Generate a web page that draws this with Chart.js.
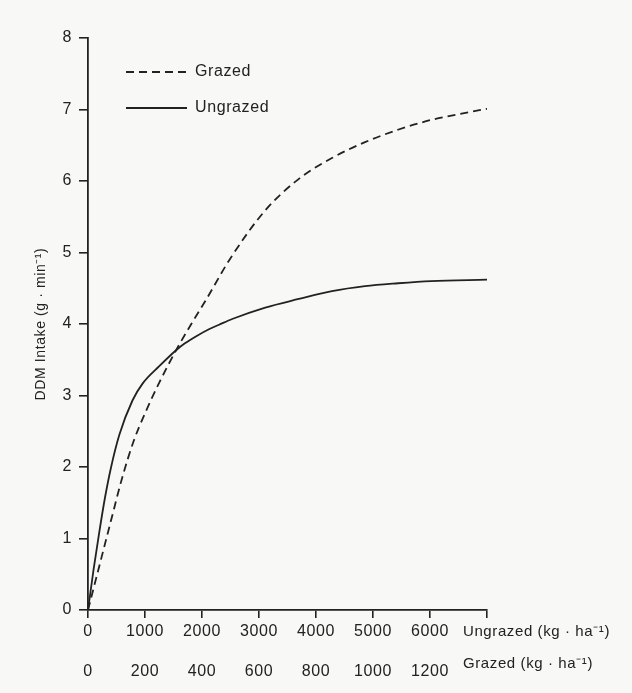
<!DOCTYPE html>
<html>
<head>
<meta charset="utf-8">
<script src="https://cdn.jsdelivr.net/npm/chart.js@4.4.1/dist/chart.umd.min.js"></script>
<style>
  body { margin: 0; background: #f8f8f6; }
  canvas { display: block; }
</style>
</head>
<body>
<canvas id="myChart" width="632" height="693"></canvas>
<script>
// ungrazed sward, kg/ha on the upper x scale
const ungrazedX = [0, 100, 200, 300, 400, 550, 780, 960, 1250, 1540, 1700, 1900, 2130, 2300, 2530, 3110, 3700, 4280, 4860, 5440, 6020, 7000];
const ungrazedY = [0, 0.58, 1.1, 1.58, 1.98, 2.45, 2.93, 3.17, 3.41, 3.63, 3.73, 3.83, 3.93, 3.99, 4.07, 4.23, 4.35, 4.46, 4.53, 4.57, 4.6, 4.62];

// grazed sward, kg/ha on the lower x scale
const grazedX = [0, 40, 80, 120, 160, 200, 250, 310, 370, 410, 500, 620, 740, 860, 970, 1090, 1200, 1320, 1400];
const grazedY = [0, 0.62, 1.24, 1.85, 2.36, 2.75, 3.18, 3.64, 4.05, 4.31, 4.92, 5.58, 6.03, 6.33, 6.54, 6.72, 6.85, 6.95, 7.01];

const ungrazedTicks = [0, 7000, 1000];
const grazedTicks = [0, 1400, 200];
const intakeTicks = [0, 8, 1];

const ungrazedUnit = 'Ungrazed (kg \u00b7 ha\u207b\u00b9)';
const grazedUnit = 'Grazed (kg \u00b7 ha\u207b\u00b9)';
const yTitle = 'DDM Intake (g \u00b7 min\u207b\u00b9)';

const ink = '#222222';
Chart.defaults.font.family = "'Liberation Sans', Arial, sans-serif";
Chart.defaults.color = ink;

const toPoints = (xs, ys) => xs.map((x, i) => ({x: x, y: ys[i]}));

// canvas letter spacing, the scan type is set loose
const spacing = {
  id: 'spacing',
  beforeUpdate(chart) { chart.ctx.letterSpacing = '0.6px'; },
  beforeDraw(chart) { chart.ctx.letterSpacing = '0.6px'; }
};

// legend sits inside the plot, nudged off the y axis
const legendNudge = {
  id: 'legendNudge',
  afterLayout(chart) {
    const lg = chart.legend, ca = chart.chartArea;
    lg.left = ca.left + 18;
    lg.top = ca.top + 6;
    lg.right = ca.right;
    lg.bottom = ca.bottom;
  }
};

// unit names written on the tick rows, right of the last label
const units = {
  id: 'units',
  afterDraw(chart) {
    const {ctx, scales} = chart;
    const x = scales.x.getPixelForValue(ungrazedTicks[1]) - 24;
    ctx.save();
    ctx.font = "15px 'Liberation Sans', Arial, sans-serif";
    ctx.fillStyle = ink;
    ctx.textAlign = 'left';
    ctx.textBaseline = 'middle';
    ctx.fillText(ungrazedUnit, x, scales.x.top + 8 + 4 + 9.6);
    ctx.fillText(grazedUnit, x, scales.x2.top + 9 + 9.6);
    ctx.restore();
  }
};

new Chart(document.getElementById('myChart'), {
  type: 'line',
  data: {
    datasets: [{
      label: 'Grazed',
      data: toPoints(grazedX, grazedY),
      xAxisID: 'x2',
      borderColor: ink,
      borderWidth: 1.8,
      borderDash: [8, 5],
      pointRadius: 0,
      cubicInterpolationMode: 'monotone',
      fill: false
    }, {
      label: 'Ungrazed',
      data: toPoints(ungrazedX, ungrazedY),
      xAxisID: 'x',
      borderColor: ink,
      borderWidth: 1.8,
      pointRadius: 0,
      cubicInterpolationMode: 'monotone',
      fill: false
    }]
  },
  options: {
    responsive: false,
    animation: false,
    layout: { padding: { top: 38, right: 145, bottom: 10, left: 0 } },
    plugins: {
      legend: {
        position: 'chartArea',
        align: 'start',
        labels: {
          usePointStyle: true,
          pointStyleWidth: 61,
          padding: 20,
          color: ink,
          font: { size: 16 },
          generateLabels(chart) {
            const items = Chart.defaults.plugins.legend.labels.generateLabels(chart);
            items.forEach(it => {
              const ds = chart.data.datasets[it.datasetIndex];
              it.pointStyle = 'line';
              it.lineDash = ds.borderDash || [];
              it.lineWidth = ds.borderWidth;
              it.strokeStyle = ds.borderColor;
            });
            return items;
          }
        }
      },
      tooltip: { enabled: false }
    },
    scales: {
      x: {
        type: 'linear',
        position: 'bottom',
        min: ungrazedTicks[0],
        max: ungrazedTicks[1],
        afterFit: s => { s.height = 35; },
        border: { display: true, color: ink, width: 1.8 },
        grid: { drawOnChartArea: false, drawTicks: true, tickLength: 8, color: ink, lineWidth: 1.6 },
        ticks: {
          stepSize: ungrazedTicks[2],
          padding: 4,
          color: ink,
          font: { size: 16 },
          maxRotation: 0,
          callback: v => (v === ungrazedTicks[1] ? '' : String(v))
        }
      },
      x2: {
        type: 'linear',
        position: 'bottom',
        min: grazedTicks[0],
        max: grazedTicks[1],
        afterFit: s => { s.height = 38; },
        border: { display: false },
        grid: { display: false },
        ticks: {
          stepSize: grazedTicks[2],
          padding: 9,
          color: ink,
          font: { size: 16 },
          maxRotation: 0,
          callback: v => (v === grazedTicks[1] ? '' : String(v))
        }
      },
      y: {
        min: intakeTicks[0],
        max: intakeTicks[1],
        afterFit: s => { s.width = 88; },
        border: { display: true, color: ink, width: 1.8 },
        grid: { drawOnChartArea: false, drawTicks: true, tickLength: 9, color: ink, lineWidth: 1.6 },
        ticks: { stepSize: intakeTicks[2], padding: 7, color: ink, font: { size: 16 } },
        title: {
          display: true,
          text: yTitle,
          color: ink,
          font: { size: 14 },
          padding: { top: 33, bottom: 0 }
        }
      }
    }
  },
  plugins: [spacing, legendNudge, units]
});
</script>
</body>
</html>
